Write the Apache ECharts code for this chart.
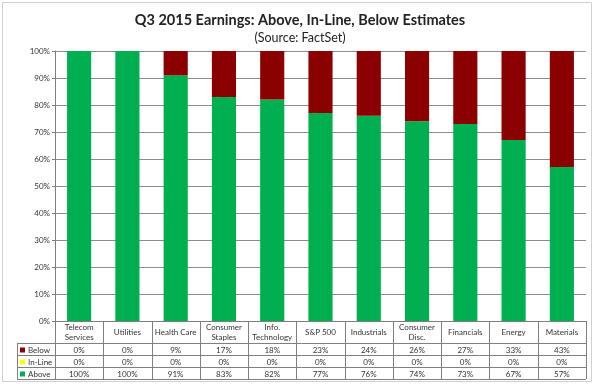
<!DOCTYPE html>
<html><head><meta charset="utf-8">
<script src="https://cdn.jsdelivr.net/npm/echarts@6/dist/echarts.min.js"></script>
<style>html,body{margin:0;padding:0;background:#fff}#c{width:600px;height:384px}</style>
</head><body><div id="c"></div>
<script>
const categories = ['Telecom\nServices','Utilities','Health Care','Consumer\nStaples','Info.\nTechnology','S&P 500','Industrials','Consumer\nDisc.','Financials','Energy','Materials'];
const below = [0,0,9,17,18,23,24,26,27,33,43];
const inLine = [0,0,0,0,0,0,0,0,0,0,0];
const above = [100,100,91,83,82,77,76,74,73,67,57];
const seriesNames = ['Below','In-Line','Above'];
const seriesColors = ['#8B0000','#FFFF00','#00B050'];
const tableRows = [below, inLine, above];

const FONT = 'Lato, "Noto Sans", sans-serif';
const chart = echarts.init(document.getElementById('c'));
const gridL = 55, gridT = 51, gridR = 586, gridB = 321;

chart.setOption({
  animation: false,
  backgroundColor: '#fff',
  title: {
    text: 'Q3 2015 Earnings: Above, In-Line, Below Estimates',
    subtext: '(Source: FactSet)',
    left: 'center', top: 8, itemGap: 3,
    textStyle: {fontFamily: FONT, fontSize: 14.5, fontWeight: 'bold', color: '#222'},
    subtextStyle: {fontFamily: FONT, fontSize: 12.5, color: '#222'}
  },
  grid: {left: gridL, top: gridT, right: 600 - gridR, bottom: 384 - gridB},
  xAxis: {
    type: 'category', data: categories,
    axisLine: {lineStyle: {color: '#7f7f7f', width: 1}},
    axisTick: {show: false},
    axisLabel: {show: false}
  },
  yAxis: {
    type: 'value', min: 0, max: 100, interval: 10,
    axisLine: {show: true, lineStyle: {color: '#7f7f7f'}},
    axisTick: {show: true, length: 3, lineStyle: {color: '#7f7f7f'}},
    axisLabel: {formatter: '{value}%', fontFamily: FONT, fontSize: 8, color: '#333', margin: 5},
    splitLine: {lineStyle: {color: '#8c8c8c', width: 1}}
  },
  series: [
    {name: 'Above', type: 'bar', stack: 's', data: above, barWidth: '50%', itemStyle: {color: seriesColors[2]}},
    {name: 'In-Line', type: 'bar', stack: 's', data: inLine, barWidth: '50%', itemStyle: {color: seriesColors[1]}},
    {name: 'Below', type: 'bar', stack: 's', data: below, barWidth: '50%', itemStyle: {color: seriesColors[0]}}
  ]
});

// data table under the plot
const c0 = chart.convertToPixel({xAxisIndex: 0}, 0);
const c1 = chart.convertToPixel({xAxisIndex: 0}, 1);
const colW = c1 - c0;
const rowTop = gridB, headBot = 343, rowH = 12, legL = 17;
const lineStyle = {stroke: '#7f7f7f', lineWidth: 1};
const g = [];
g.push({type: 'rect', shape: {x: 2.5, y: 2.5, width: 589, height: 379}, style: {fill: null, stroke: '#d0d0d0', lineWidth: 1}, silent: true});
const tableBot = headBot + rowH * 3;
for (let i = 0; i <= categories.length; i++) {
  const x = Math.round(c0 - colW / 2 + i * colW) + 0.5;
  g.push({type: 'line', shape: {x1: x, y1: rowTop, x2: x, y2: tableBot}, style: lineStyle});
}
g.push({type: 'line', shape: {x1: legL + 0.5, y1: headBot, x2: legL + 0.5, y2: tableBot}, style: lineStyle});
for (let r = 0; r <= 3; r++) {
  const y = headBot + r * rowH + 0.5;
  g.push({type: 'line', shape: {x1: legL, y1: y, x2: gridR, y2: y}, style: lineStyle});
}
categories.forEach((cat, i) => {
  const cx = chart.convertToPixel({xAxisIndex: 0}, i);
  g.push({type: 'text', style: {text: cat, x: cx, y: (rowTop + headBot) / 2 + 0.5, align: 'center', verticalAlign: 'middle', font: '8px ' + FONT, fill: '#333', lineHeight: 10}});
  tableRows.forEach((row, r) => {
    g.push({type: 'text', style: {text: row[i] + '%', x: cx, y: headBot + r * rowH + rowH / 2 + 1, align: 'center', verticalAlign: 'middle', font: '8px ' + FONT, fill: '#333'}});
  });
});
seriesNames.forEach((n, r) => {
  const yc = headBot + r * rowH + rowH / 2 + 1;
  g.push({type: 'rect', shape: {x: 20, y: yc - 2.5, width: 5, height: 5}, style: {fill: seriesColors[r]}});
  g.push({type: 'text', style: {text: n, x: 28, y: yc, align: 'left', verticalAlign: 'middle', font: '8px ' + FONT, fill: '#333'}});
});
chart.setOption({graphic: g});
</script></body></html>
